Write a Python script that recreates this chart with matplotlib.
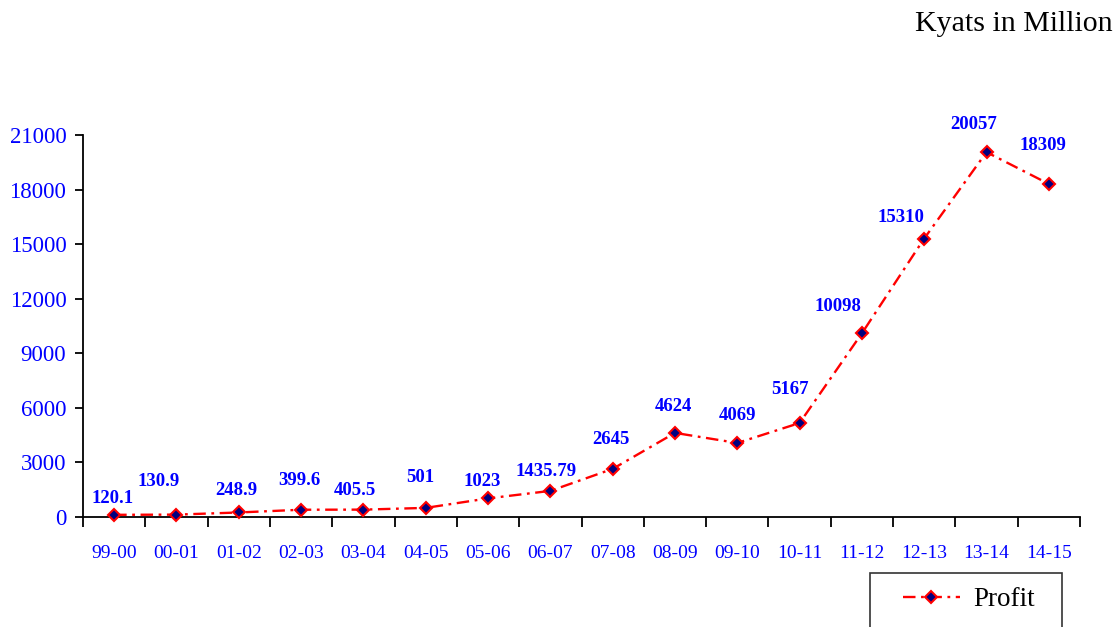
import matplotlib
matplotlib.use("Agg")
import matplotlib.pyplot as plt
from matplotlib.patches import Rectangle
from matplotlib.ticker import FixedLocator, NullFormatter, FixedFormatter

plt.rcParams["font.family"] = ["Liberation Serif", "DejaVu Serif"]
plt.rcParams["lines.scale_dashes"] = False

years = ["99-00", "00-01", "01-02", "02-03", "03-04", "04-05", "05-06", "06-07",
         "07-08", "08-09", "09-10", "10-11", "11-12", "12-13", "13-14", "14-15"]
profit = [120.1, 130.9, 248.9, 399.6, 405.5, 501, 1023, 1435.79,
          2645, 4624, 4069, 5167, 10098, 15310, 20057, 18309]
value_labels = ["120.1", "130.9", "248.9", "399.6", "405.5", "501", "1023", "1435.79",
                "2645", "4624", "4069", "5167", "10098", "15310", "20057", "18309"]
y_ticks = [0, 3000, 6000, 9000, 12000, 15000, 18000, 21000]

# label placement offsets (points) relative to each marker
label_dx = [-1, -13, -2, -1, -6, -4, -4, -3, -1, -1, 0, -7, -17, -17, -9, -4]
label_dy = [12, 24, 16, 21, 14, 22, 12, 14, 21, 19, 20, 24, 19, 15, 20, 28]

BLUE = "#0000FF"
W, H = 1119, 627
fig = plt.figure(figsize=(W / 100, H / 100), dpi=100)
ax = fig.add_axes([83 / W, 1 - 517 / H, (1080 - 83) / W, (517 - 135) / H])

x = list(range(len(years)))
line, = ax.plot(x, profit, color="#FF0000", lw=1.7, linestyle=(0, (9, 4, 2, 4)),
                marker="D", markersize=6.5, markerfacecolor="#000080",
                markeredgecolor="#FF0000", markeredgewidth=1.5, label="Profit",
                clip_on=False, zorder=3)

for xi, v, txt, dx, dy in zip(x, profit, value_labels, label_dx, label_dy):
    ax.annotate(txt, (xi, v), xytext=(dx, dy), textcoords="offset points",
                ha="center", va="center", color=BLUE, fontsize=13.5,
                fontweight="bold")

ax.set_xlim(-0.5, len(years) - 0.5)
ax.set_ylim(0, 21000)

ax.xaxis.set_major_locator(FixedLocator([i - 0.5 for i in range(len(years) + 1)]))
ax.xaxis.set_major_formatter(NullFormatter())
ax.xaxis.set_minor_locator(FixedLocator(x))
ax.xaxis.set_minor_formatter(FixedFormatter(years))
ax.tick_params(axis="x", which="major", direction="out", length=7, width=1.3)
ax.tick_params(axis="x", which="minor", length=0, pad=20, labelsize=14,
               labelcolor=BLUE)

ax.set_yticks(y_ticks)
ax.set_yticklabels([str(t) for t in y_ticks])
ax.tick_params(axis="y", direction="out", length=6, width=1.3, labelsize=16.5,
               labelcolor=BLUE, pad=6)

for side in ("top", "right"):
    ax.spines[side].set_visible(False)
for side in ("left", "bottom"):
    ax.spines[side].set_linewidth(1.3)

fig.text(1113 / W, 1 - 24 / H, "Kyats in Million", ha="right", va="center",
         fontsize=21.5, color="black")

# legend box running off the bottom edge of the figure
fig.patches.append(Rectangle((870 / W, 1 - 640 / H), (1062 - 870) / W, 67 / H,
                             transform=fig.transFigure, facecolor="white",
                             edgecolor="#333333", linewidth=1.2, zorder=4))
fig.legend(handles=[line], loc="center left",
           bbox_to_anchor=(903 / W, 1 - 600 / H), frameon=False,
           fontsize=19.5, borderpad=0, handlelength=2.1, handletextpad=0.48,
           borderaxespad=0).set_zorder(5)

fig.savefig("out.png", dpi=100)
